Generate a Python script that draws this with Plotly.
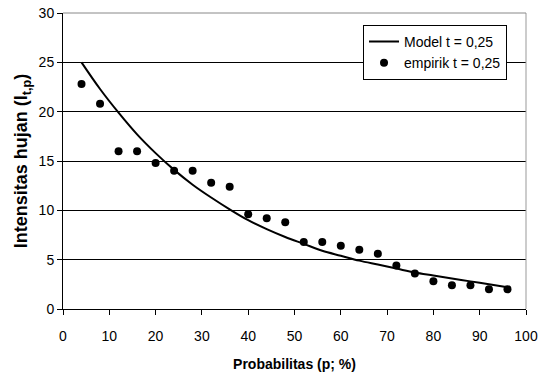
import plotly.graph_objects as go

p_emp = [4, 8, 12, 16, 20, 24, 28, 32, 36, 40, 44, 48, 52, 56, 60, 64, 68, 72, 76, 80, 84, 88, 92, 96]
i_emp = [22.8, 20.8, 16.0, 16.0, 14.8, 14.0, 14.0, 12.8, 12.4, 9.6, 9.2, 8.8, 6.8, 6.8, 6.4, 6.0, 5.6, 4.4, 3.6, 2.8, 2.4, 2.4, 2.0, 2.0]

p_model = [4, 8, 12, 16, 20, 24, 28, 32, 36, 40, 44, 48, 52, 56, 60, 64, 68, 72, 76, 80, 84, 88, 92, 96]
i_model = [25.0, 22.3, 19.9, 17.7, 15.8, 14.1, 12.6, 11.3, 10.1, 9.0, 8.1, 7.3, 6.6, 5.9, 5.4, 4.9, 4.5, 4.1, 3.7, 3.4, 3.1, 2.8, 2.5, 2.2]

x_ticks = [0, 10, 20, 30, 40, 50, 60, 70, 80, 90, 100]
y_ticks = [0, 5, 10, 15, 20, 25, 30]

FONT = "Liberation Sans, Arial, sans-serif"

fig = go.Figure()
fig.add_trace(go.Scatter(x=p_model, y=i_model, mode="lines", name="Model t = 0,25",
                         line=dict(color="black", width=2, shape="spline")))
fig.add_trace(go.Scatter(x=p_emp, y=i_emp, mode="markers", name="empirik t = 0,25",
                         marker=dict(color="black", size=8)))

fig.update_layout(
    width=541, height=376,
    margin=dict(l=63, r=15, t=13, b=67, autoexpand=False),
    paper_bgcolor="white", plot_bgcolor="white",
    font=dict(family=FONT, size=14, color="black"),
    showlegend=True,
    legend=dict(x=0.959, y=0.96, xanchor="right", yanchor="top",
                bgcolor="white", bordercolor="black", borderwidth=1,
                font=dict(size=14), itemwidth=30, tracegroupgap=0),
    xaxis=dict(range=[0, 100], tickvals=x_ticks, ticks="outside", ticklen=5,
               tickcolor="black", showline=True, linecolor="black", linewidth=1,
               automargin=False, showgrid=False, zeroline=False,
               tickfont=dict(size=14), ticklabelstandoff=9,
               title=dict(text="<b>Probabilitas (p; %)</b>", font=dict(size=14), standoff=16)),
    yaxis=dict(range=[0, 30], tickvals=y_ticks, ticks="outside", ticklen=5,
               tickcolor="black", showline=True, linecolor="black", linewidth=1,
               automargin=False, showgrid=True, gridcolor="black", gridwidth=1, zeroline=False,
               tickfont=dict(size=14),
               title=dict(text="<b>Intensitas hujan (I<sub>t,p</sub>)</b>", font=dict(size=18), standoff=6)),
)
fig.add_shape(type="line", xref="paper", yref="paper", x0=1, x1=1, y0=0, y1=1,
              line=dict(color="#999999", width=1))
fig.add_shape(type="line", xref="paper", yref="paper", x0=0, x1=1, y0=1, y1=1,
              line=dict(color="#888888", width=1))

fig.write_html("out.html")
